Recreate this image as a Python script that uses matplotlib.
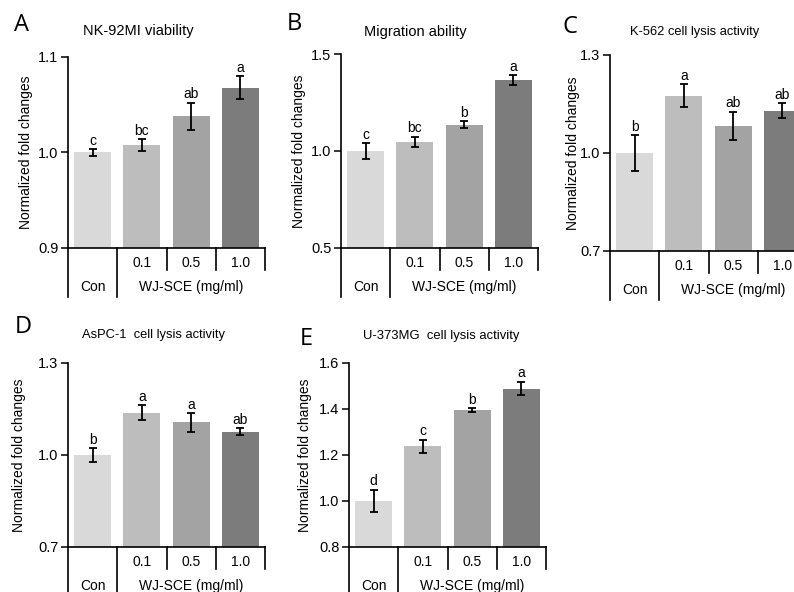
import numpy as np
import matplotlib
matplotlib.use("Agg")
import matplotlib.pyplot as plt
from matplotlib.lines import Line2D

plt.rcParams['font.family'] = ['Liberation Sans', 'DejaVu Sans']

W, H = 794, 592

groups = ["Con", "0.1", "0.5", "1.0"]
colors = ["#d9d9d9", "#bdbdbd", "#a3a3a3", "#7c7c7c"]

# panel data: means, errors, significance letters
a_vals = [1.000, 1.008, 1.038, 1.068]
a_errs = [0.0035, 0.006, 0.014, 0.012]
a_sig = ["c", "bc", "ab", "a"]

b_vals = [1.000, 1.047, 1.136, 1.366]
b_errs = [0.039, 0.027, 0.017, 0.025]
b_sig = ["c", "bc", "b", "a"]

c_vals = [1.000, 1.176, 1.083, 1.129]
c_errs = [0.055, 0.035, 0.044, 0.023]
c_sig = ["b", "a", "ab", "ab"]

d_vals = [1.000, 1.138, 1.106, 1.076]
d_errs = [0.023, 0.025, 0.031, 0.012]
d_sig = ["b", "a", "a", "ab"]

e_vals = [1.000, 1.237, 1.394, 1.489]
e_errs = [0.049, 0.030, 0.009, 0.030]
e_sig = ["d", "c", "b", "a"]

panels = [
    # letter, title, vals, errs, sig, yticks, rect(l, t, r, b) px, ylabel right-edge offset px
    ("A", "NK-92MI viability", a_vals, a_errs, a_sig, [0.9, 1.0, 1.1], (68, 57, 265, 248), 35),
    ("B", "Migration ability", b_vals, b_errs, b_sig, [0.5, 1.0, 1.5], (341, 54, 538, 248), 35),
    ("C", "K-562 cell lysis activity", c_vals, c_errs, c_sig, [0.7, 1.0, 1.3], (610, 55, 807, 251), 30),
    ("D", "AsPC-1  cell lysis activity", d_vals, d_errs, d_sig, [0.7, 1.0, 1.3], (68, 363, 265, 547), 42),
    ("E", "U-373MG  cell lysis activity", e_vals, e_errs, e_sig, [0.8, 1.0, 1.2, 1.4, 1.6], (349, 363, 546, 547), 37),
]
title_pos = {"A": (138, 31), "B": (415, 32), "C": (695, 32), "D": (154, 335), "E": (441, 336)}
title_size = {"A": 10.5, "B": 10.5, "C": 9.3, "D": 9.3, "E": 9.4}
letter_pos = {"A": (14, 25), "B": (287, 24), "C": (562, 27), "D": (15, 327), "E": (300, 339)}

fig = plt.figure(figsize=(W / 100, H / 100), dpi=100)

for letter, title, vals, errs, sig, yt, (l, t, r, b), ylo in panels:
    ax = fig.add_axes([l / W, 1 - b / H, (r - l) / W, (b - t) / H])
    hpx = b - t
    wpx = r - l
    x = np.arange(len(vals))
    ax.bar(x, np.array(vals) - yt[0], bottom=yt[0], width=0.75, color=colors, zorder=2)
    ax.errorbar(x, vals, yerr=errs, fmt="none", ecolor="black", elinewidth=1.3,
                capsize=3, capthick=1.3, zorder=3)
    for xi, v, e, s in zip(x, vals, errs, sig):
        ax.annotate(s, (xi, v + e), xytext=(0, 1), textcoords="offset points",
                    ha="center", va="bottom", fontsize=10)
    ax.set_xlim(-0.5, 3.5)
    ax.set_ylim(yt[0], yt[-1])
    ax.set_yticks(yt)
    ax.set_yticklabels(["%.1f" % v for v in yt])
    ax.set_xticks([])
    ax.tick_params(axis="y", length=5, width=1.1, labelsize=10.5, pad=2, direction="out")
    for sp in ["top", "right"]:
        ax.spines[sp].set_visible(False)
    ax.spines["left"].set_linewidth(1.2)
    ax.spines["bottom"].set_linewidth(1.2)
    ax.set_ylabel("Normalized fold changes", fontsize=10)
    ax.yaxis.set_label_coords(-ylo / wpx, 0.5)

    # category table under the axis
    full = -49 / hpx
    part = -22 / hpx
    ax.add_line(Line2D([0, 0], [0, full], transform=ax.transAxes, color="black", lw=1.2, clip_on=False))
    ax.add_line(Line2D([0.25, 0.25], [0, full], transform=ax.transAxes, color="black", lw=1.2, clip_on=False))
    for xf in [0.5, 0.75, 1.0]:
        ax.add_line(Line2D([xf, xf], [0, part], transform=ax.transAxes, color="black", lw=1.2, clip_on=False))
    for i, g in enumerate(groups[1:]):
        ax.text(0.375 + 0.25 * i, -15 / hpx, g, transform=ax.transAxes, ha="center",
                va="center", fontsize=10)
    ax.text(0.125, -39 / hpx, groups[0], transform=ax.transAxes, ha="center", va="center", fontsize=10)
    ax.text(0.625, -39 / hpx, "WJ-SCE (mg/ml)", transform=ax.transAxes, ha="center",
            va="center", fontsize=10)

    tx, ty = title_pos[letter]
    fig.text(tx / W, 1 - ty / H, title, ha="center", va="center", fontsize=title_size[letter])
    lx, ly = letter_pos[letter]
    fig.text(lx / W, 1 - ly / H, letter, ha="left", va="center", fontsize=17,
             family=["Open Sans", "DejaVu Sans"])

fig.savefig("out.png", dpi=100)
